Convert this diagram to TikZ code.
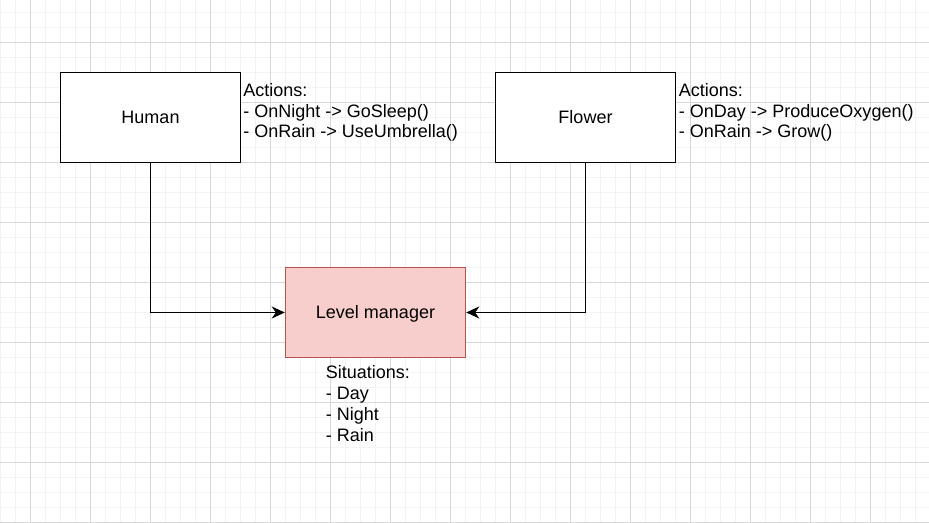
\documentclass[tikz,border=0pt]{standalone}
\usepackage{fontspec}
\setmainfont{Liberation Sans}
\usepackage{xcolor}
\usetikzlibrary{arrows.meta, positioning}
\definecolor{gridmajor}{HTML}{D8D8D8}
\definecolor{gridminor}{HTML}{F3F3F3}
\definecolor{managerfill}{HTML}{F8CECC}
\definecolor{managerline}{HTML}{B85450}
\tikzstyle{entity} = [rectangle, minimum width=3.6cm, minimum height=1.8cm, inner sep=0pt, text height=0.72em, text depth=0pt, text centered, draw=black, line width=0.85pt, fill=white, font=\fontsize{10.25}{11.8}\selectfont]
\tikzstyle{manager} = [entity, draw=managerline, fill=managerfill]
\tikzstyle{note} = [inner sep=0pt, align=left, anchor=north west, font=\fontsize{10.25}{11.8}\selectfont]
\tikzstyle{arrow} = [line width=0.85pt, -{Stealth[length=0.26cm, width=0.24cm, inset=0.08cm]}]

\begin{document}
\begin{tikzpicture}[x=0.02cm, y=-0.02cm]
\useasboundingbox[fill=white] (0,0) rectangle (929,523);
% Grid
\foreach \x in {0,15,...,929} \draw[gridminor, line width=0.55pt] (\x,0) -- (\x,523);
\foreach \y in {12.5,27.5,...,523} \draw[gridminor, line width=0.55pt] (0,\y) -- (929,\y);
\foreach \x in {30,90,...,929} \draw[gridmajor, line width=0.55pt] (\x,0) -- (\x,523);
\foreach \y in {42.5,102.5,...,523} \draw[gridmajor, line width=0.55pt] (0,\y) -- (929,\y);

% Nodes
\node (human) [entity] at (150.5,117.5) {Human};
\node (flower) [entity] at (585.5,117.5) {Flower};
\node (manager) [manager] at (375.5,312.5) {Level manager};

% Notes
\node (humanactions) [note] at (243,83) {Actions:\\- OnNight -> GoSleep()\\- OnRain -> UseUmbrella()};
\node (floweractions) [note] at (678.5,83) {Actions:\\- OnDay -> ProduceOxygen()\\- OnRain -> Grow()};
\node (situations) [note] at (325.5,365.5) {Situations:\\- Day\\- Night\\- Rain};

% Arrows
\draw [arrow] (human) |- (manager);
\draw [arrow] (flower) |- (manager);

\end{tikzpicture}
\end{document}
